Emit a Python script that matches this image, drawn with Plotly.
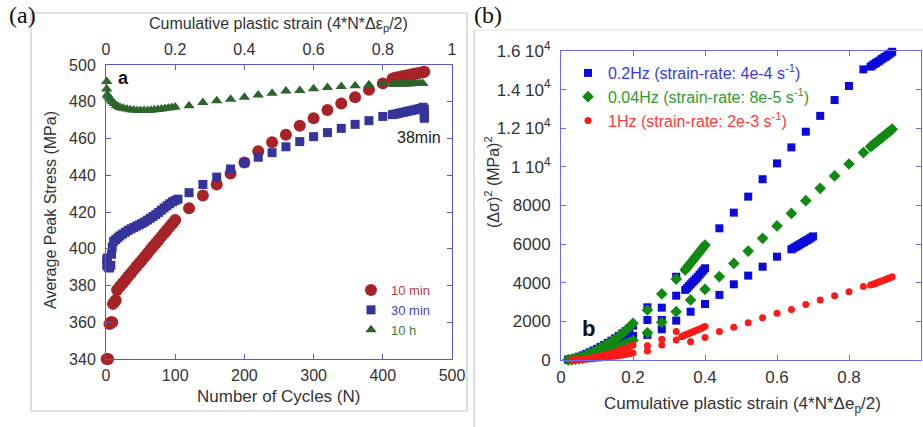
import plotly.graph_objects as go

W, H = 923, 427

# ---------------- Panel (a) data ----------------
red_N = [1, 3, 5, 7, 9, 10, 12, 14,
         16, 20, 24, 28, 32, 36, 40, 44, 48, 52, 56, 60, 64, 68, 72, 76, 80, 84, 88, 92, 96, 100,
         120, 140, 160, 180, 200, 220, 240, 260, 280, 300, 320, 340, 360, 380, 400,
         414, 418, 422, 426, 430, 434, 438, 442, 446, 450, 454, 458, 460]
red_S = [340, 340, 359, 360, 360, 370, 371, 372,
         377.6, 379.4, 381.2, 383, 384.9, 386.7, 388.5, 390.3, 392.1, 393.9, 395.7, 397.5, 399.4, 401.2, 403, 404.8, 406.6, 408.4, 410.2, 412, 413.8, 415.6,
         422, 429, 435, 441, 447, 453, 458, 462, 467, 471, 475.5, 479, 482.5, 486.5, 490,
         492.5, 493, 493.3, 493.6, 494, 494.3, 494.6, 495, 495.2, 495.5, 495.8, 496, 496.3]

blue_N = [1, 1, 2, 3, 5, 7, 8, 9,
          11, 14, 17, 20, 24, 28, 32, 36, 40, 44, 48, 52, 56, 60, 64, 68, 72, 76, 80, 84, 88, 92, 96, 100, 104,
          120, 140, 160, 180, 200, 220, 240, 260, 280, 300, 320, 340, 360, 380, 400,
          414, 418, 422, 426, 430, 434, 438, 442, 446, 450, 454, 458, 460, 460, 460, 460]
blue_S = [394, 391, 395, 390, 389.5, 391, 397, 401,
          404, 405, 406, 407, 408, 409, 410, 410.8, 411.5, 412.3, 413, 413.8, 414.6, 415.6, 416.6, 417.6, 418.6, 419.8, 421, 422.2, 423.4, 424.5, 425.5, 426.3, 427,
          430.5, 435, 439, 443.4, 446.8, 449.8, 452.3, 455.5, 458.3, 461, 463.2, 465.5, 467.7, 469.7, 472,
          473, 473.3, 473.6, 474, 474.3, 474.6, 475, 475.3, 475.6, 476, 476.3, 477, 476, 474, 472, 471]

green_N = [1, 1, 2, 3, 5, 7, 9, 12, 15, 18, 21, 25, 30, 35, 40, 45, 50, 55, 60, 65, 70, 75, 80, 85, 90, 95, 100,
           120, 140, 160, 180, 200, 220, 240, 260, 280, 300, 320, 340, 360, 380, 400,
           414, 418, 422, 426, 430, 434, 438, 442, 446, 450, 454, 458]
green_S = [491, 487, 484, 483, 482, 481, 480, 479, 478, 477.3, 476.8, 476.4, 476, 475.7, 475.5, 475.3, 475.2, 475.2, 475.3, 475.4, 475.6, 475.8, 476, 476.3, 476.6, 476.9, 477.2,
           477.8, 479.6, 480.6, 481.4, 482.5, 483.7, 484.6, 485.9, 486.1, 487.1, 487.8, 488.3, 488.7, 489.3, 489.8,
           489.5, 489.5, 489.6, 489.6, 489.7, 489.7, 489.8, 489.8, 489.9, 489.9, 490, 490]

a_xticks = [0, 100, 200, 300, 400, 500]
a_yticks = [340, 360, 380, 400, 420, 440, 460, 480, 500]
a_topticks = [0, 0.2, 0.4, 0.6, 0.8, 1]

# ---------------- Panel (b) data ----------------
xs_020 = [0.02, 0.03, 0.04, 0.05, 0.06, 0.07, 0.08, 0.09, 0.10, 0.11, 0.12, 0.13, 0.14, 0.15, 0.16, 0.17, 0.18, 0.19, 0.20]
xs_030 = [0.03, 0.04, 0.05, 0.06, 0.07, 0.08, 0.09, 0.10, 0.11, 0.12, 0.13, 0.14, 0.15, 0.16, 0.17, 0.18, 0.19, 0.20]
b_blueA = [20, 60, 110, 170, 240, 320, 400, 490, 580, 680, 780, 890, 1000, 1120, 1240, 1370, 1500, 1640, 1780]
b_blueB = [10, 30, 60, 100, 140, 190, 240, 300, 360, 430, 500, 580, 660, 750, 840, 940, 1040, 1140, 1250]
b_greenA = [10, 40, 80, 130, 190, 260, 340, 420, 510, 610, 720, 830, 950, 1080, 1220, 1370, 1530, 1700, 1900]
b_greenB = [0, 20, 40, 70, 100, 140, 180, 220, 270, 320, 380, 440, 510, 580, 660, 740, 830, 920, 1020]
b_redA = [0, 10, 30, 50, 80, 110, 140, 180, 220, 260, 310, 360, 420, 480, 540, 610, 680, 760]
b_redB = [0, 5, 15, 25, 40, 55, 70, 90, 110, 130, 150, 175, 200, 225, 255, 285, 320, 360]

blue_sx = [0.24, 0.24, 0.24, 0.28, 0.28, 0.28, 0.32, 0.32, 0.32, 0.36, 0.40, 0.44, 0.44, 0.48, 0.48,
           0.52, 0.52, 0.56, 0.56, 0.60, 0.60, 0.64, 0.68, 0.72, 0.76, 0.80, 0.84]
blue_sy = [2730, 2070, 1300, 2710, 2070, 1590, 4310, 3330, 2040, 2500, 2900, 6820, 3370, 7630, 3920,
           8460, 4370, 9360, 4830, 10180, 5350, 11010, 11820, 12640, 13460, 14190, 15050]
green_sx = [0.24, 0.24, 0.28, 0.28, 0.32, 0.32, 0.36, 0.40, 0.44, 0.48, 0.52, 0.56, 0.60, 0.64, 0.68, 0.72, 0.76, 0.80, 0.84]
green_sy = [2590, 1410, 3420, 1950, 4190, 2500, 3110, 3660, 4320, 5000, 5640, 6300, 6940, 7590, 8250, 8890, 9530, 10150, 10740]
red_sx = [0.24, 0.24, 0.28, 0.28, 0.32, 0.32, 0.36, 0.40, 0.44, 0.48, 0.52, 0.56, 0.60, 0.64, 0.68, 0.72, 0.76, 0.80, 0.84]
red_sy = [740, 470, 1070, 780, 1470, 1040, 950, 1170, 1470, 1690, 1930, 2190, 2420, 2620, 2880, 3110, 3330, 3540, 3800]

xs_mid = [0.345, 0.35, 0.355, 0.36, 0.365, 0.37, 0.375, 0.38, 0.385, 0.39, 0.395, 0.40]
xs_midr = [0.335, 0.34, 0.345, 0.35, 0.355, 0.36, 0.365, 0.37, 0.375, 0.38, 0.385, 0.39, 0.395, 0.40]
xs_064 = [0.64, 0.645, 0.65, 0.655, 0.66, 0.665, 0.67, 0.675, 0.68, 0.685, 0.69, 0.695, 0.70]
xs_end = [0.86, 0.865, 0.87, 0.875, 0.88, 0.885, 0.89, 0.895, 0.90, 0.905, 0.91, 0.915, 0.92]
b_blueC = [3630, 3720, 3820, 3920, 4020, 4110, 4210, 4310, 4420, 4530, 4640, 4750]
b_blueD = [5730, 5780, 5840, 5890, 5950, 6000, 6060, 6110, 6170, 6220, 6280, 6340, 6400]
b_blueE = [15190, 15250, 15320, 15380, 15440, 15500, 15570, 15630, 15690, 15750, 15820, 15880, 15960]
b_greenC = [4660, 4780, 4900, 5010, 5130, 5250, 5370, 5480, 5600, 5720, 5840, 5950]
b_greenE = [11050, 11120, 11200, 11270, 11350, 11420, 11500, 11570, 11650, 11720, 11800, 11870, 11950]
b_redC = [1210, 1250, 1290, 1330, 1370, 1410, 1450, 1490, 1530, 1570, 1610, 1650, 1690, 1730]
b_redE = [3880, 3910, 3950, 3980, 4020, 4050, 4090, 4120, 4160, 4190, 4230, 4260, 4310]

b_xticks = [0, 0.2, 0.4, 0.6, 0.8, 1]
b_yticks = [0, 2000, 4000, 6000, 8000, 10000, 12000, 14000, 16000]
b_yticktext = ['0', '2000', '4000', '6000', '8000', '1 10<sup>4</sup>', '1.2 10<sup>4</sup>',
               '1.4 10<sup>4</sup>', '1.6 10<sup>4</sup>']


def px(x):
    return x / W


def py(y):
    return 1 - y / H


FONT = "Liberation Sans, Arial, sans-serif"
TICKC = "#333333"
AX_A = "#5a5ac0"
AX_B = "#6b6bf0"

fig = go.Figure()

fig.add_trace(go.Scatter(x=red_N, y=red_S, mode='markers', xaxis='x', yaxis='y', cliponaxis=False,
                         marker=dict(symbol='circle', size=12, color='#a82328'),
                         name="<span style='color:#c0393d'>10 min</span>", legend='legend'))
fig.add_trace(go.Scatter(x=blue_N, y=blue_S, mode='markers', xaxis='x', yaxis='y', cliponaxis=False,
                         marker=dict(symbol='square', size=9, color='#34349a'),
                         name="<span style='color:#4646aa'>30 min</span>", legend='legend'))
fig.add_trace(go.Scatter(x=green_N, y=green_S, mode='markers', xaxis='x', yaxis='y', cliponaxis=False,
                         marker=dict(symbol='triangle-up', size=10, color='#2b652b'),
                         name="<span style='color:#3d7d3d'>10 h</span>", legend='legend'))
fig.add_trace(go.Scatter(x=[0, 1], y=[None, None], mode='markers', xaxis='x2', yaxis='y',
                         showlegend=False, hoverinfo='skip'))

bx_blue = xs_020 + xs_020 + blue_sx + xs_mid + xs_064 + xs_end
by_blue = b_blueA + b_blueB + blue_sy + b_blueC + b_blueD + b_blueE
bx_green = xs_020 + xs_020 + green_sx + xs_mid + xs_end
by_green = b_greenA + b_greenB + green_sy + b_greenC + b_greenE
bx_red = xs_030 + xs_030 + red_sx + xs_midr + xs_end
by_red = b_redA + b_redB + red_sy + b_redC + b_redE

fig.add_trace(go.Scatter(x=bx_blue, y=by_blue, mode='markers', xaxis='x3', yaxis='y3', cliponaxis=False,
                         marker=dict(symbol='square', size=8, color='#0a0adc'),
                         name="<span style='color:#3a3ae0'>0.2Hz (strain-rate: 4e-4 s<sup>-1</sup>)</span>",
                         legend='legend2'))
fig.add_trace(go.Scatter(x=bx_green, y=by_green, mode='markers', xaxis='x3', yaxis='y3', cliponaxis=False,
                         marker=dict(symbol='diamond', size=9, color='#118a11'),
                         name="<span style='color:#2f9a2f'>0.04Hz (strain-rate: 8e-5 s<sup>-1</sup>)</span>",
                         legend='legend2'))
fig.add_trace(go.Scatter(x=bx_red, y=by_red, mode='markers', xaxis='x3', yaxis='y3', cliponaxis=False,
                         marker=dict(symbol='circle', size=7, color='#ff1a1a'),
                         name="<span style='color:#ff3a3a'>1Hz (strain-rate: 2e-3 s<sup>-1</sup>)</span>",
                         legend='legend2'))

domA_x = [px(106), px(452)]
domA_y = [py(359), py(65)]
domB_x = [px(561), px(921)]
domB_y = [py(360), py(51)]

common = dict(showgrid=False, zeroline=False, showline=True, mirror='ticks', ticks='inside',
              ticklen=5, tickwidth=1, automargin=False)

fig.update_layout(
    template='none',
    width=W, height=H, margin=dict(l=0, r=0, t=0, b=0, pad=0, autoexpand=False),
    paper_bgcolor='white', plot_bgcolor='white',
    font=dict(family=FONT, color=TICKC),
    xaxis=dict(domain=domA_x, range=[0, 500], anchor='y', tickvals=a_xticks,
               linecolor=AX_A, tickcolor=AX_A, tickfont=dict(size=16, color=TICKC),
               ticklabelstandoff=2, **common),
    xaxis2=dict(domain=domA_x, range=[0, 1], overlaying='x', side='top', anchor='y',
                tickvals=a_topticks, ticktext=['0', '0.2', '0.4', '0.6', '0.8', '1'],
                showgrid=False, zeroline=False, showline=False, ticks='', automargin=False,
                tickfont=dict(size=16, color=TICKC), ticklabelstandoff=6),
    yaxis=dict(domain=domA_y, range=[340, 500], anchor='x', tickvals=a_yticks,
               linecolor=AX_A, tickcolor=AX_A, tickfont=dict(size=16, color=TICKC),
               ticklabelstandoff=6, **common),
    xaxis3=dict(domain=domB_x, range=[0, 1], anchor='y3', tickvals=b_xticks,
                ticktext=['0', '0.2', '0.4', '0.6', '0.8', '1'],
                linecolor=AX_B, tickcolor=AX_B, tickfont=dict(size=17, color=TICKC),
                ticklabelstandoff=2, **common),
    yaxis3=dict(domain=domB_y, range=[0, 16000], anchor='x3', tickvals=b_yticks,
                ticktext=b_yticktext, linecolor=AX_B, tickcolor=AX_B,
                tickfont=dict(size=17, color=TICKC), ticklabelstandoff=6, **common),
    legend=dict(x=px(351), y=py(275), xanchor='left', yanchor='top', bgcolor='rgba(0,0,0,0)',
                font=dict(size=13, family=FONT), borderwidth=0),
    legend2=dict(x=px(568), y=py(56), xanchor='left', yanchor='top', bgcolor='rgba(0,0,0,0)',
                 font=dict(size=16, family=FONT), borderwidth=0),
    showlegend=True,
)

shapes = [
    dict(type='rect', xref='paper', yref='paper', x0=px(31), x1=px(467), y0=py(411), y1=py(13),
         line=dict(color='#c8c8c8', width=1.2), layer='below'),
    dict(type='line', xref='paper', yref='paper', x0=px(474), x1=px(474), y0=py(427), y1=py(30),
         line=dict(color='#c8c8c8', width=1.2), layer='below'),
    dict(type='line', xref='paper', yref='paper', x0=px(474), x1=px(923), y0=py(30), y1=py(30),
         line=dict(color='#e0e0e0', width=1.2), layer='below'),
]
fig.update_layout(shapes=shapes)

ann = []


def add(text, x, y, size, color='#333333', family=FONT, angle=0, xanchor='center'):
    ann.append(dict(text=text, x=px(x), y=py(y), xref='paper', yref='paper', showarrow=False,
                    font=dict(size=size, color=color, family=family), textangle=angle,
                    xanchor=xanchor, yanchor='middle'))


add('(a)', 22, 15, 24, '#111111', 'Liberation Serif, Times New Roman, serif')
add('(b)', 488, 15, 24, '#111111', 'Liberation Serif, Times New Roman, serif')
add("Cumulative plastic strain (4*N*Δε<sub><span style='color:#333333'>p</span></sub>/2)", 278, 25, 16)
add('Number of Cycles (N)', 278, 396, 17)
add('Average Peak Stress (MPa)', 50, 210, 16, angle=-90)
add('<b>a</b>', 124, 78, 18, '#111111')
add('38min', 419, 137, 16, '#222222')
add('<b>b</b>', 588, 328, 22, '#111111')
add('(Δσ)<sup>2</sup> (MPa)<sup>2</sup>', 492, 182, 16, angle=-90)
add("Cumulative plastic strain (4*N*Δe<sub><span style='color:#333333'>p</span></sub>/2)", 742, 405, 17)
fig.update_layout(annotations=ann)

fig.write_html("out.html")
